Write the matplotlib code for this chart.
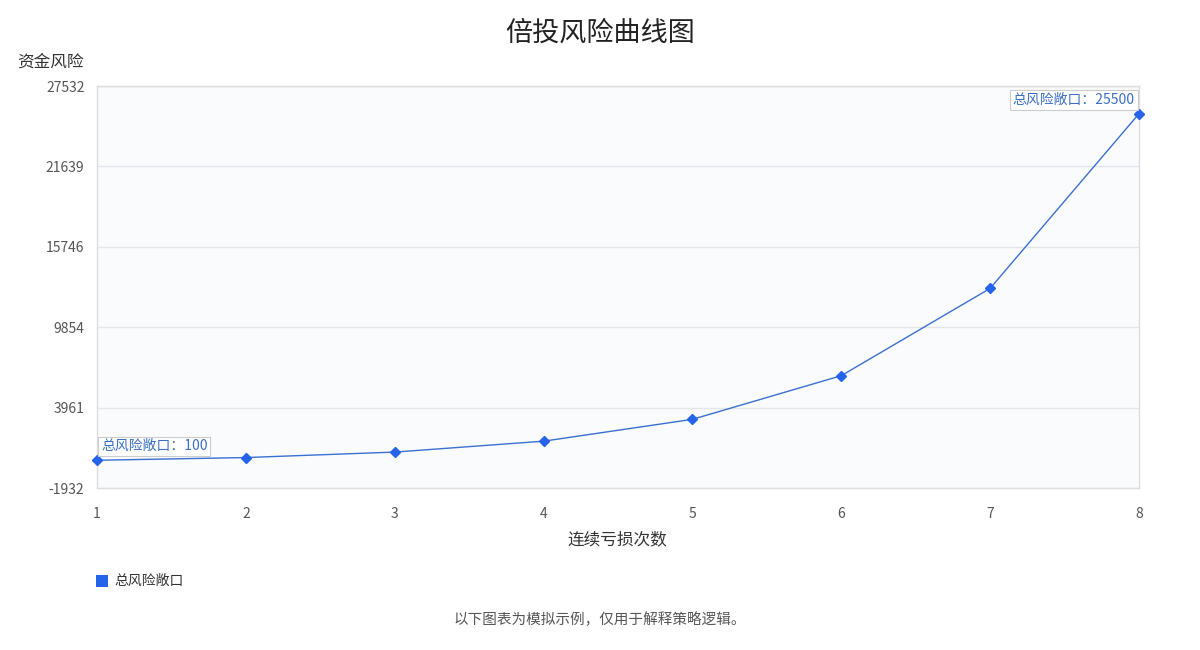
import matplotlib
matplotlib.use("Agg")
import matplotlib.pyplot as plt
import numpy as np

plt.rcParams["font.family"] = ["Noto Sans CJK SC", "DejaVu Sans"]

# data
losses = [1, 2, 3, 4, 5, 6, 7, 8]
exposure = [100, 300, 700, 1500, 3100, 6300, 12700, 25500]
y_ticks = [-1932, 3961, 9854, 15746, 21639, 27532]

BLUE = "#2563EB"
LINE = "#3B6FD0"
TEXT = "#333333"
TICK = "#555555"
GRID = "#E3E6EA"

fig = plt.figure(figsize=(12, 6.5), dpi=100)
ax = fig.add_axes([97 / 1200, 1 - 488 / 650, (1139 - 97) / 1200, (488 - 86) / 650])
ax.set_facecolor("#F9FBFD")

ax.plot(losses, exposure, color=LINE, linewidth=1, marker="D", markersize=5.5,
        markerfacecolor=BLUE, markeredgecolor=BLUE, zorder=3, clip_on=False)

ax.set_xlim(losses[0], losses[-1])
ax.set_ylim(y_ticks[0], y_ticks[-1])
ax.set_xticks(losses)
ax.set_yticks(y_ticks)
ax.set_xticklabels([str(v) for v in losses])
ax.set_yticklabels([str(v) for v in y_ticks])
ax.tick_params(axis="both", length=0, labelsize=10, colors=TICK)
ax.tick_params(axis="x", pad=14)
ax.tick_params(axis="y", pad=9)
ax.grid(axis="y", color=GRID, linewidth=1)
ax.set_axisbelow(True)
for s in ax.spines.values():
    s.set_color("#DDDDDD")
    s.set_linewidth(1)

box = dict(boxstyle="square,pad=0.2", facecolor="white", edgecolor="#CCCCCC", linewidth=0.8)
ax.annotate(f"总风险敞口：{exposure[0]}", (losses[0], exposure[0]), xytext=(3, 5),
            textcoords="offset points", ha="left", va="bottom", fontsize=10,
            color="#3A6FC4", bbox=box, zorder=4)
ax.annotate(f"总风险敞口：{exposure[-1]}", (losses[-1], exposure[-1]), xytext=(-3, 5),
            textcoords="offset points", ha="right", va="bottom", fontsize=10,
            color="#3A6FC4", bbox=box, zorder=4)

fig.text(0.5, 1 - 33 / 650, "倍投风险曲线图", ha="center", va="center", fontsize=19.5, color="#222222")
fig.text(50 / 1200, 1 - 62 / 650, "资金风险", ha="center", va="center", fontsize=12, color=TEXT)
fig.text(617 / 1200, 1 - 540 / 650, "连续亏损次数", ha="center", va="center", fontsize=12, color=TEXT)

# legend
fig.patches.append(plt.Rectangle((96 / 1200, 1 - 587 / 650), 12 / 1200, 12 / 650,
                                 transform=fig.transFigure, facecolor=BLUE, edgecolor="none"))
fig.text(114 / 1200, 1 - 581 / 650, "总风险敞口", ha="left", va="center", fontsize=10, color=TEXT)

fig.text(0.5, 1 - 620 / 650, "以下图表为模拟示例，仅用于解释策略逻辑。", ha="center", va="center",
         fontsize=10.5, color="#555555")

fig.savefig("out.png", dpi=100)
